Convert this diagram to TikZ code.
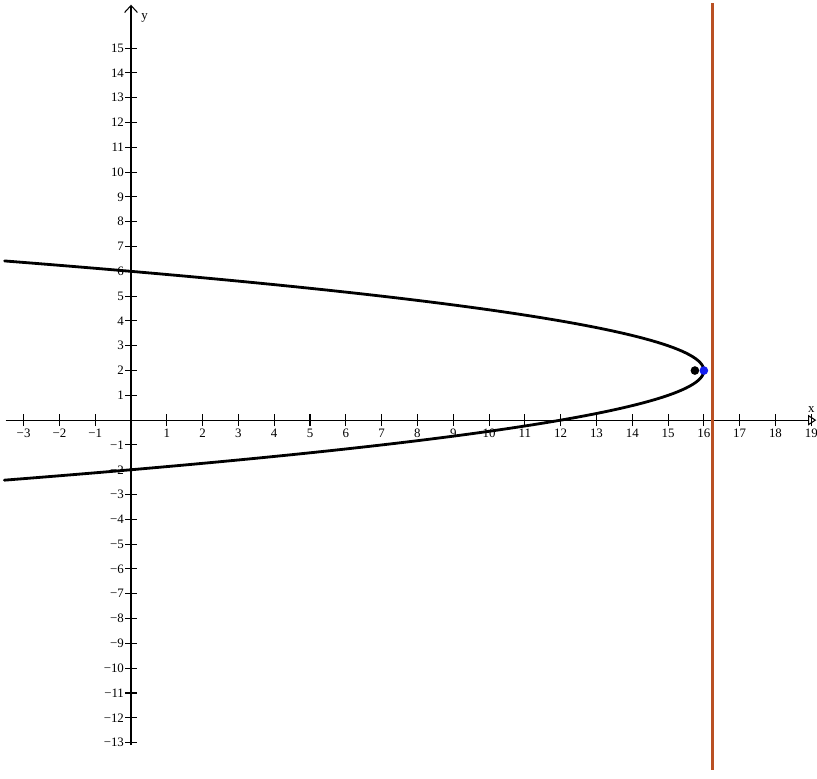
\documentclass[tikz,border=0pt]{standalone}
\usepackage{fontspec}
\setmainfont{Liberation Serif}
\usetikzlibrary{arrows.meta}
\definecolor{dirred}{RGB}{185,80,35}
\definecolor{vblue}{RGB}{20,30,240}
\tikzset{
  axisline/.style={line width=0.9pt,black},
  tickline/.style={line width=0.9pt,black},
  ticklab/.style={font=\fontsize{11}{13}\selectfont,inner sep=1pt},
  curveline/.style={line width=2.4pt,black,line cap=round},
  dirline/.style={line width=2.5pt,dirred},
}
\begin{document}
\begin{tikzpicture}[x=1.074cm,y=0.744cm]
\useasboundingbox (-3.659,-14.44) rectangle (19.16,16.94);
% axes
\coordinate (xs) at (-3.5,0);
\coordinate (xe) at (19.14,0);
\coordinate (ys) at (0,-13.1);
\coordinate (ye) at (0,16.75);
\draw[axisline,-{Triangle[open,length=7pt,width=9pt]}] (xs) -- (xe);
\draw[axisline,-{Straight Barb[length=6pt,width=11pt]}] (ys) -- (ye);
\node[ticklab,anchor=south] (xlab) at (19.0,0.25) {x};
\node[ticklab,anchor=west] (ylab) at (0.25,16.2) {y};
% x ticks
\foreach \i in {-3,-2,-1,1,2,...,19}{
  \draw[tickline] (\i,0) ++(0,-0.18cm) -- ++(0,0.36cm);
  \node[ticklab,anchor=north] (xt\i) at ([yshift=-0.22cm]\i,0) {\ifnum\i<0 −\the\numexpr-\i\relax\else\i\fi};
}
% y ticks
\foreach \j in {-13,-12,...,-1,1,2,...,15}{
  \draw[tickline] (0,\j) ++(-0.18cm,0) -- ++(0.36cm,0);
  \node[ticklab,anchor=east] (yt\j) at ([xshift=-0.17cm]0,\j) {\ifnum\j<0 −\the\numexpr-\j\relax\else\j\fi};
}
% directrix
\coordinate (dtop) at (16.25,16.8);
\coordinate (dbot) at (16.25,-14.12);
\draw[dirline] (dtop) -- (dbot);
% parabola x = 16 - (y-2)^2
\draw[curveline] plot[domain=-2.42:6.42,samples=120,variable=\t] ({16-(\t-2)*(\t-2)},\t);
% focus and vertex
\fill[black] (15.75,2) circle (0.13cm);
\fill[vblue] (16,2) circle (0.13cm);
\end{tikzpicture}
\end{document}
